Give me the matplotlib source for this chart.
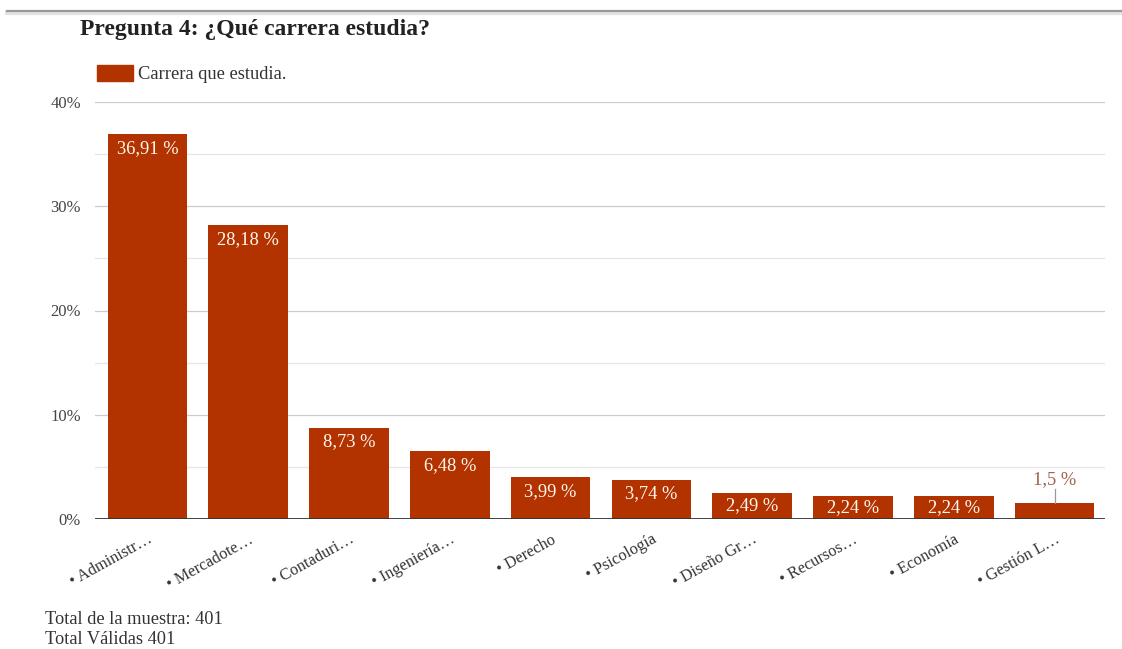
import matplotlib
matplotlib.use("Agg")
import matplotlib.pyplot as plt
from matplotlib.lines import Line2D
from matplotlib.patches import Patch

categories = ["Administr…", "Mercadote…", "Contaduri…", "Ingeniería…", "Derecho",
              "Psicología", "Diseño Gr…", "Recursos…", "Economía", "Gestión L…"]
values = [36.91, 28.18, 8.73, 6.48, 3.99, 3.74, 2.49, 2.24, 2.24, 1.5]
value_labels = ["36,91 %", "28,18 %", "8,73 %", "6,48 %", "3,99 %", "3,74 %",
                "2,49 %", "2,24 %", "2,24 %", "1,5 %"]
yticks = [0, 10, 20, 30, 40]
ytick_labels = ["0%", "10%", "20%", "30%", "40%"]

plt.rcParams['font.family'] = ['Liberation Serif', 'DejaVu Serif']
BAR = '#b23200'

fig = plt.figure(figsize=(11.22, 6.49), dpi=100)
W, H = 1122, 649
ax = fig.add_axes([95 / W, 1 - 519 / H, (1105 - 95) / W, (519 - 102) / H])

x = list(range(len(values)))
ax.bar(x, values, width=0.79, color=BAR, zorder=3)
ax.set_xlim(-0.52, 9.5)
ax.set_ylim(0, 40)

# gridlines
for g in range(5, 40, 10):
    ax.axhline(g, color='#e6e6e6', lw=0.9, zorder=1)
for g in range(10, 41, 10):
    ax.axhline(g, color='#cccccc', lw=0.9, zorder=1)
ax.axhline(0, color='#333333', lw=1.3, zorder=4)

for s in ax.spines.values():
    s.set_visible(False)
ax.set_yticks(yticks)
ax.set_yticklabels(ytick_labels, fontsize=12, color='#444444')
ax.tick_params(axis='y', length=0, pad=10)
ax.set_xticks(x)
ax.set_xticklabels(["• " + c for c in categories], rotation=29, ha='right',
                   rotation_mode='anchor', fontsize=11.8, color='#333333')
ax.tick_params(axis='x', length=0, pad=9)

# value labels
px_per_unit = (519 - 102) / 40.0
for xi, v, lab in zip(x, values, value_labels):
    h_px = v * px_per_unit
    if h_px > 18:
        off_px = min(14, h_px / 2)
        ytxt = v - off_px / px_per_unit
        ax.text(xi, ytxt, lab, ha='center', va='center', color='#fff8f0',
                fontsize=13.3, zorder=5)
    else:
        ax.plot([xi, xi], [v, v + 14 / px_per_unit], color='#999999', lw=0.9, zorder=5)
        ax.text(xi, v + 24 / px_per_unit, lab, ha='center', va='center',
                color='#a0604c', fontsize=13.3, zorder=5)

# title
fig.text(80 / W, 1 - 30 / H, "Pregunta 4: ¿Qué carrera estudia?", fontsize=17,
         fontweight='bold', color='#222222', va='center', ha='left')

# top separator line
fig.add_artist(Line2D([7 / W, 1], [1 - 13 / H, 1 - 13 / H], color='#e4e4e4', lw=3,
                      transform=fig.transFigure))
fig.add_artist(Line2D([7 / W, 1], [1 - 10.5 / H, 1 - 10.5 / H], color='#999999', lw=1.6,
                      transform=fig.transFigure))

# legend
fig.legend(handles=[Patch(color=BAR, label="Carrera que estudia.")],
           loc='center left', bbox_to_anchor=(80 / W, 1 - 74 / H), frameon=False,
           fontsize=13.3, handlelength=1.95, handleheight=0.95, handletextpad=0.3,
           labelcolor='#333333')

# footnotes
fig.text(45 / W, 1 - 619 / H, "Total de la muestra: 401", fontsize=13.2,
         color='#333333', va='center')
fig.text(45 / W, 1 - 640 / H, "Total Válidas 401", fontsize=13.2,
         color='#333333', va='center')

fig.savefig("out.png", dpi=100)
